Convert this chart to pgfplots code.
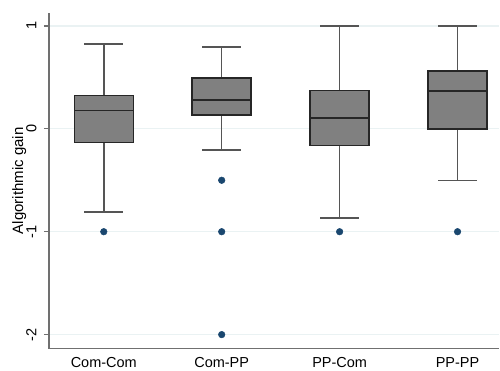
\documentclass[border=0pt]{standalone}
\usepackage{pgfplots}
\pgfplotsset{compat=1.18}
\usepgfplotslibrary{statistics}
\usepackage{fontspec}
\setmainfont{Liberation Sans}
\definecolor{navy}{HTML}{1A476F}
\definecolor{gridc}{HTML}{EAF2F3}
\definecolor{boxgray}{HTML}{808080}
\definecolor{boxedge}{HTML}{262626}
\definecolor{whisk}{HTML}{555555}
\definecolor{axc}{HTML}{707070}
\begin{document}
\begin{tikzpicture}
\begin{axis}[
  at={(0,0)}, anchor=south west,
  scale only axis, width=451pt, height=336pt,
  xmin=0.535, xmax=4.355, ymin=-2.136, ymax=1.126,
  axis lines*=left,
  axis line style={draw=axc, line width=1.2pt},
  xtick={1,2,3,4},
  xticklabels={Com-Com,Com-PP,PP-Com,PP-PP},
  major x tick style={draw=none},
  ytick={-2,-1,0,1},
  tick align=outside,
  major tick length=5pt,
  y tick style={draw=axc, line width=1.2pt},
  yticklabel style={rotate=90, anchor=south, yshift=4pt, font=\fontsize{14.5}{16}\selectfont},
  xticklabel style={font=\fontsize{14.5}{16}\selectfont, yshift=0pt},
  /pgf/number format/assume math mode=true,
  ymajorgrids,
  grid style={draw=gridc, line width=1.2pt},
  ylabel={Algorithmic gain},
  ylabel style={font=\fontsize{15}{17}\selectfont, yshift=-7pt},
  boxplot/draw direction=y,
  boxplot/box extend=0.5,
  boxplot/whisker extend=0.33,
  boxplot/every box/.style={fill=boxgray, draw=boxedge, line width=1.5pt},
  boxplot/every whisker/.style={draw=whisk, line width=1.5pt},
  boxplot/every median/.style={draw=boxedge, line width=1.5pt},
]
\addplot[boxplot prepared={lower whisker=-0.809, lower quartile=-0.133, median=0.178, upper quartile=0.323, upper whisker=0.825, draw position=1},
  draw=boxedge, line width=1.5pt,
  mark=*, mark size=3.3pt, mark options={fill=navy, draw=navy, line width=0.5pt}]
  coordinates {(0,-1)};
\addplot[boxplot prepared={lower whisker=-0.204, lower quartile=0.136, median=0.278, upper quartile=0.492, upper whisker=0.796, draw position=2},
  draw=boxedge, line width=1.5pt,
  mark=*, mark size=3.3pt, mark options={fill=navy, draw=navy, line width=0.5pt}]
  coordinates {(0,-0.5) (0,-1) (0,-2)};
\addplot[boxplot prepared={lower whisker=-0.867, lower quartile=-0.162, median=0.104, upper quartile=0.372, upper whisker=1, draw position=3},
  draw=boxedge, line width=1.5pt,
  mark=*, mark size=3.3pt, mark options={fill=navy, draw=navy, line width=0.5pt}]
  coordinates {(0,-1)};
\addplot[boxplot prepared={lower whisker=-0.5, lower quartile=0, median=0.369, upper quartile=0.563, upper whisker=1, draw position=4},
  draw=boxedge, line width=1.5pt,
  mark=*, mark size=3.3pt, mark options={fill=navy, draw=navy, line width=0.5pt}]
  coordinates {(0,-1)};
\end{axis}
\path (-49pt,-19pt) rectangle (451pt,349pt);
\end{tikzpicture}
\end{document}
